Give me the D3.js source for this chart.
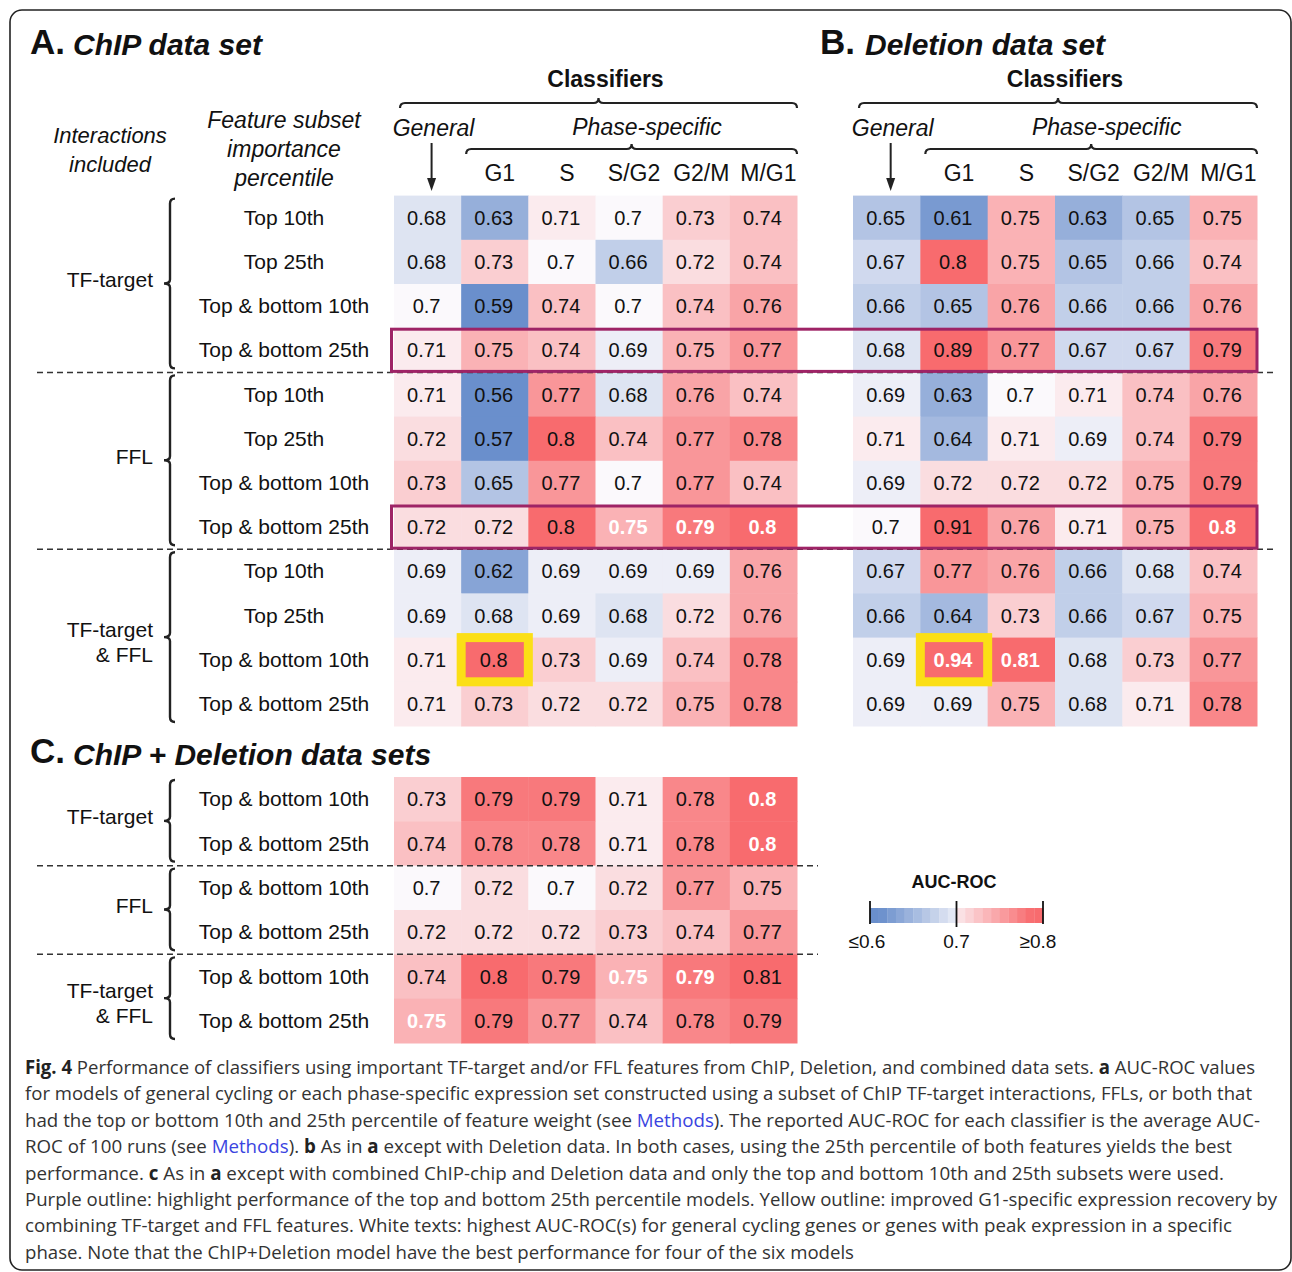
<!DOCTYPE html>
<html>
<head>
<meta charset="utf-8">
<script src="https://cdn.jsdelivr.net/npm/d3@7"></script>
<style>
	body { margin: 0; background: #fff; }
	svg text { font-family: "Liberation Sans", Arial, sans-serif; fill: #111; }
	svg text.caption { font-family: "Open Sans", "Noto Sans", sans-serif; fill: #333; }
</style>
</head>
<body>
<div class="container"></div>
<script>
// columns of every heatmap
var classifiers = ['General', 'G1', 'S', 'S/G2', 'G2/M', 'M/G1'];
var subsets = ['Top 10th', 'Top 25th', 'Top & bottom 10th', 'Top & bottom 25th'];
var subsetsC = ['Top & bottom 10th', 'Top & bottom 25th'];
var groups = [['TF-target'], ['FFL'], ['TF-target', '& FFL']];

// AUC-ROC, rows = group x subset
var chipValues = [
	[0.68, 0.63, 0.71, 0.7, 0.73, 0.74],
	[0.68, 0.73, 0.7, 0.66, 0.72, 0.74],
	[0.7, 0.59, 0.74, 0.7, 0.74, 0.76],
	[0.71, 0.75, 0.74, 0.69, 0.75, 0.77],
	[0.71, 0.56, 0.77, 0.68, 0.76, 0.74],
	[0.72, 0.57, 0.8, 0.74, 0.77, 0.78],
	[0.73, 0.65, 0.77, 0.7, 0.77, 0.74],
	[0.72, 0.72, 0.8, 0.75, 0.79, 0.8],
	[0.69, 0.62, 0.69, 0.69, 0.69, 0.76],
	[0.69, 0.68, 0.69, 0.68, 0.72, 0.76],
	[0.71, 0.8, 0.73, 0.69, 0.74, 0.78],
	[0.71, 0.73, 0.72, 0.72, 0.75, 0.78]
];
var deletionValues = [
	[0.65, 0.61, 0.75, 0.63, 0.65, 0.75],
	[0.67, 0.8, 0.75, 0.65, 0.66, 0.74],
	[0.66, 0.65, 0.76, 0.66, 0.66, 0.76],
	[0.68, 0.89, 0.77, 0.67, 0.67, 0.79],
	[0.69, 0.63, 0.7, 0.71, 0.74, 0.76],
	[0.71, 0.64, 0.71, 0.69, 0.74, 0.79],
	[0.69, 0.72, 0.72, 0.72, 0.75, 0.79],
	[0.7, 0.91, 0.76, 0.71, 0.75, 0.8],
	[0.67, 0.77, 0.76, 0.66, 0.68, 0.74],
	[0.66, 0.64, 0.73, 0.66, 0.67, 0.75],
	[0.69, 0.94, 0.81, 0.68, 0.73, 0.77],
	[0.69, 0.69, 0.75, 0.68, 0.71, 0.78]
];
var combinedValues = [
	[0.73, 0.79, 0.79, 0.71, 0.78, 0.8],
	[0.74, 0.78, 0.78, 0.71, 0.78, 0.8],
	[0.7, 0.72, 0.7, 0.72, 0.77, 0.75],
	[0.72, 0.72, 0.72, 0.73, 0.74, 0.77],
	[0.74, 0.8, 0.79, 0.75, 0.79, 0.81],
	[0.75, 0.79, 0.77, 0.74, 0.78, 0.79]
];

// cells with white bold text ("row-col")
var chipWhite = ['7-3', '7-4', '7-5'];
var deletionWhite = ['7-5', '10-1', '10-2'];
var combinedWhite = ['0-5', '1-5', '4-3', '4-4', '5-0'];
var purpleRows = [3, 7];
var yellowCell = [10, 1];

var legendStops = [0.6, 0.7, 0.8];
var legendLabels = ['≤0.6', '0.7', '≥0.8'];

var color = d3.scaleLinear()
	.domain(legendStops)
	.range(['#6a8fcc', '#fbf9fc', '#f86b6e'])
	.clamp(true);

var svg = d3.select('.container')
	.append('svg')
	.attr('width', 1292)
	.attr('height', 1272);

svg.append('rect')
	.attr('x', 10).attr('y', 10)
	.attr('width', 1281).attr('height', 1260)
	.attr('rx', 12).attr('ry', 12)
	.style('fill', 'none')
	.style('stroke', '#222')
	.style('stroke-width', 1.6);

var yAB = d3.scaleBand().domain(d3.range(12)).range([195.6, 726]);
var yC = d3.scaleBand().domain(d3.range(6)).range([777, 1043]);
var xA = d3.scaleBand().domain(classifiers).range([394, 797]);
var xB = d3.scaleBand().domain(classifiers).range([853, 1257]);

function drawCells(values, x, y, whites) {
	var g = svg.append('g');
	var cells = [];
	values.forEach(function (row, r) {
		row.forEach(function (v, c) {
			cells.push({ r: r, c: c, v: v, white: whites.indexOf(r + '-' + c) >= 0 });
		});
	});

	g.selectAll('rect')
		.data(cells)
		.enter().append('rect')
		.attr('x', function (d) { return x(classifiers[d.c]); })
		.attr('y', function (d) { return y(d.r); })
		.attr('width', x.bandwidth() + 0.5)
		.attr('height', y.bandwidth() + 0.5)
		.style('fill', function (d) { return color(d.v); });

	g.selectAll('text')
		.data(cells)
		.enter().append('text')
		.attr('x', function (d) { return x(classifiers[d.c]) + x.bandwidth() / 2 - 1; })
		.attr('y', function (d) { return y(d.r) + y.bandwidth() / 2 + 7; })
		.attr('text-anchor', 'middle')
		.style('font-size', '20px')
		.style('font-weight', function (d) { return d.white ? 'bold' : 'normal'; })
		.style('fill', function (d) { return d.white ? '#fff' : '#111'; })
		.text(function (d) { return d.v; });
}

function hbrace(x1, x2, y) {
	var m = (x1 + x2) / 2;
	svg.append('path')
		.attr('d', 'M' + x1 + ',' + (y + 5) + ' Q' + x1 + ',' + y + ' ' + (x1 + 5) + ',' + y +
			' L' + (m - 5) + ',' + y + ' Q' + m + ',' + y + ' ' + m + ',' + (y - 5) +
			' Q' + m + ',' + y + ' ' + (m + 5) + ',' + y +
			' L' + (x2 - 5) + ',' + y + ' Q' + x2 + ',' + y + ' ' + x2 + ',' + (y + 5))
		.style('fill', 'none')
		.style('stroke', '#222')
		.style('stroke-width', 2.2);
}

function vbrace(x, y1, y2) {
	var m = (y1 + y2) / 2;
	svg.append('path')
		.attr('d', 'M' + (x + 5) + ',' + y1 + ' Q' + x + ',' + y1 + ' ' + x + ',' + (y1 + 5) +
			' L' + x + ',' + (m - 4) + ' Q' + x + ',' + m + ' ' + (x - 6) + ',' + m +
			' Q' + x + ',' + m + ' ' + x + ',' + (m + 4) +
			' L' + x + ',' + (y2 - 5) + ' Q' + x + ',' + y2 + ' ' + (x + 5) + ',' + y2)
		.style('fill', 'none')
		.style('stroke', '#222')
		.style('stroke-width', 2.4);
}

function label(x, y, txt, size, opts) {
	opts = opts || {};
	return svg.append('text')
		.attr('x', x).attr('y', y)
		.attr('text-anchor', opts.anchor || 'middle')
		.style('font-size', size + 'px')
		.style('font-weight', opts.bold ? 'bold' : 'normal')
		.style('font-style', opts.italic ? 'italic' : 'normal')
		.text(txt);
}

function drawRowLabels(y, names, groupRows) {
	y.domain().forEach(function (r) {
		label(284, y(r) + y.bandwidth() / 2 + 7, names[r % names.length], 21);
	});
	groups.forEach(function (lines, i) {
		var top = y(i * groupRows),
			bottom = y(i * groupRows + groupRows - 1) + y.bandwidth(),
			mid = (top + bottom) / 2;
		vbrace(170, top + 3, bottom - 4);
		if (lines.length === 1) {
			label(153, mid + 3, lines[0], 21, { anchor: 'end' });
		} else {
			label(153, mid - 1, lines[0], 21, { anchor: 'end' });
			label(153, mid + 24, lines[1], 21, { anchor: 'end' });
		}
	});
}

function drawHeader(x) {
	var left = x.range()[0], right = x.range()[1];
	var xs = function (c) { return x(c) + x.bandwidth() / 2; };
	label((left + right) / 2 + 10, 87, 'Classifiers', 23, { bold: true });
	hbrace(left + 6, right, 103);
	label(xs('General') + 6, 136, 'General', 23, { italic: true });
	label((x('G1') + right) / 2 + 18, 135, 'Phase-specific', 23, { italic: true });
	hbrace(x('G1') + 5, right, 149);
	classifiers.slice(1).forEach(function (c) {
		label(xs(c) + 5, 181, c, 23);
	});
	var ax = xs('General') + 4;
	svg.append('line')
		.attr('x1', ax).attr('x2', ax)
		.attr('y1', 143).attr('y2', 180)
		.style('stroke', '#222').style('stroke-width', 2);
	svg.append('path')
		.attr('d', 'M' + (ax - 4.5) + ',178 L' + (ax + 4.5) + ',178 L' + ax + ',191 Z')
		.style('fill', '#222');
}

function dashed(x1, x2, y) {
	svg.append('line')
		.attr('x1', x1).attr('x2', x2)
		.attr('y1', y).attr('y2', y)
		.style('stroke', '#333')
		.style('stroke-width', 1.5)
		.style('stroke-dasharray', '6,4');
}

// titles
label(30, 54, 'A.', 35, { anchor: 'start', bold: true });
label(73, 55, 'ChIP data set', 30, { anchor: 'start', bold: true, italic: true });
label(820, 54, 'B.', 35, { anchor: 'start', bold: true });
label(865, 55, 'Deletion data set', 30, { anchor: 'start', bold: true, italic: true });
label(30, 763, 'C.', 35, { anchor: 'start', bold: true });
label(73, 765, 'ChIP + Deletion data sets', 30, { anchor: 'start', bold: true, italic: true });

label(110, 143, 'Interactions', 22, { italic: true });
label(110, 172, 'included', 22, { italic: true });
label(284, 128, 'Feature subset', 23, { italic: true });
label(284, 157, 'importance', 23, { italic: true });
label(284, 186, 'percentile', 23, { italic: true });

drawHeader(xA);
drawHeader(xB);

drawCells(chipValues, xA, yAB, chipWhite);
drawCells(deletionValues, xB, yAB, deletionWhite);
drawCells(combinedValues, xA, yC, combinedWhite);

drawRowLabels(yAB, subsets, 4);
drawRowLabels(yC, subsetsC, 2);

// group separators
[4, 8].forEach(function (r) { dashed(37, 1275, yAB(r)); });
[2, 4].forEach(function (r) { dashed(37, 818, yC(r)); });

// purple outlines over A and B
purpleRows.forEach(function (r) {
	svg.append('rect')
		.attr('x', xA.range()[0] - 2.5)
		.attr('y', yAB(r) + 1)
		.attr('width', xB.range()[1] - xA.range()[0] + 2.5)
		.attr('height', yAB.bandwidth() - 2)
		.style('fill', 'none')
		.style('stroke', '#9e2466')
		.style('stroke-width', 3);
});

// yellow outlines
[xA, xB].forEach(function (x) {
	svg.append('rect')
		.attr('x', x(classifiers[yellowCell[1]]))
		.attr('y', yAB(yellowCell[0]))
		.attr('width', x.bandwidth())
		.attr('height', yAB.bandwidth())
		.style('fill', 'none')
		.style('stroke', '#fbdf16')
		.style('stroke-width', 9);
});

// colour legend
var lx = d3.scaleLinear().domain([0.6, 0.8]).range([870, 1043]);
var steps = d3.range(20).map(function (i) { return 0.6 + i * 0.01; });
label(954, 888, 'AUC-ROC', 18, { bold: true });
svg.append('g').selectAll('rect')
	.data(steps)
	.enter().append('rect')
	.attr('x', function (d) { return lx(d); })
	.attr('y', 908)
	.attr('width', lx(0.61) - lx(0.6) + 0.3)
	.attr('height', 15)
	.style('fill', function (d) { return color(d + 0.005 + (d < 0.7 ? -0.012 : 0.012)); });
legendStops.forEach(function (v, i) {
	svg.append('line')
		.attr('x1', lx(v)).attr('x2', lx(v))
		.attr('y1', 901).attr('y2', i === 1 ? 927 : 924)
		.style('stroke', '#111').style('stroke-width', 1.8);
	label(lx(v) + (i === 0 ? -3 : i === 2 ? -5 : 0), 948, legendLabels[i], 19);
});

// figure caption
var captionLines = [
	[['Fig. 4', 'b'], [' Performance of classifiers using important TF-target and/or FFL features from ChIP, Deletion, and combined data sets. '], ['a', 'b'], [' AUC-ROC values']],
	[['for models of general cycling or each phase-specific expression set constructed using a subset of ChIP TF-target interactions, FFLs, or both that']],
	[['had the top or bottom 10th and 25th percentile of feature weight (see '], ['Methods', 'l'], ['). The reported AUC-ROC for each classifier is the average AUC-']],
	[['ROC of 100 runs (see '], ['Methods', 'l'], ['). '], ['b', 'b'], [' As in '], ['a', 'b'], [' except with Deletion data. In both cases, using the 25th percentile of both features yields the best']],
	[['performance. '], ['c', 'b'], [' As in '], ['a', 'b'], [' except with combined ChIP-chip and Deletion data and only the top and bottom 10th and 25th subsets were used.']],
	[['Purple outline: highlight performance of the top and bottom 25th percentile models. Yellow outline: improved G1-specific expression recovery by']],
	[['combining TF-target and FFL features. White texts: highest AUC-ROC(s) for general cycling genes or genes with peak expression in a specific']],
	[['phase. Note that the ChIP+Deletion model have the best performance for four of the six models']]
];
var captionEnds = [1255, 1252, 1260, 1232, 1224, 1277, 1232, 854];

captionLines.forEach(function (segs, i) {
	var t = svg.append('text')
		.classed('caption', true)
		.attr('x', 25)
		.attr('y', 1074 + i * 26.4)
		.attr('textLength', captionEnds[i] - 25)
		.attr('lengthAdjust', 'spacingAndGlyphs')
		.style('font-size', '19px');
	segs.forEach(function (s) {
		t.append('tspan')
			.style('font-weight', s[1] === 'b' ? 'bold' : 'normal')
			.style('fill', s[1] === 'l' ? '#3a44e0' : (s[1] === 'b' ? '#222' : '#333'))
			.text(s[0]);
	});
});
</script>
</body>
</html>
